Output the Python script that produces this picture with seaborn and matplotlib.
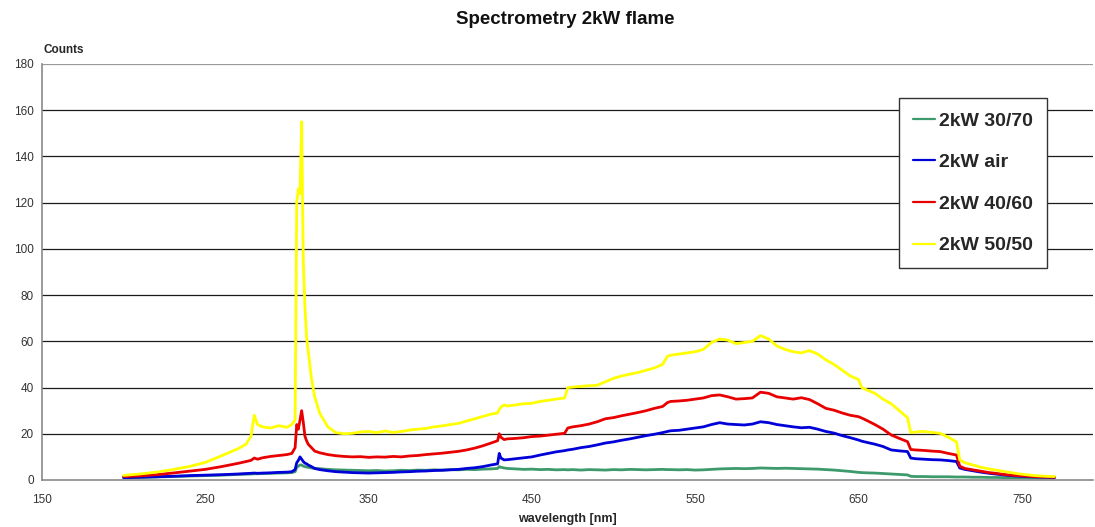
import numpy as np
import pandas as pd
import matplotlib
matplotlib.use("Agg")
import matplotlib.pyplot as plt
import seaborn as sns
from matplotlib.lines import Line2D

wavelength = [200, 210, 220, 230, 240, 250, 260, 270, 275, 278, 280, 282, 285, 290, 295, 300, 303, 305,
              306, 307, 308, 309, 310, 311, 312, 313, 315, 317, 320, 325, 330, 335, 340, 345, 350, 355,
              360, 365, 370, 375, 380, 385, 390, 395, 400, 405, 410, 415, 420, 425, 429, 430, 431, 433,
              435, 440, 445, 450, 455, 460, 465, 470, 472, 475, 480, 485, 490, 495, 500, 505, 510, 515,
              520, 525, 530, 533, 535, 540, 545, 550, 555, 560, 565, 570, 575, 580, 585, 590, 595, 600,
              605, 610, 615, 620, 625, 630, 635, 640, 645, 650, 652, 655, 660, 665, 670, 675, 680, 682,
              685, 690, 695, 700, 705, 710, 712, 715, 720, 725, 730, 735, 740, 745, 750, 755, 760, 765, 770]

kw_30_70 = [1.0, 1.1, 1.3, 1.5, 1.7, 1.9, 2.1, 2.4, 2.5, 2.6, 2.7, 2.7, 2.8, 2.9, 3.0, 3.1, 3.2, 3.6,
            5.5, 6.0, 6.5, 6.5, 6.0, 5.8, 5.6, 5.5, 5.2, 5.0, 4.9, 4.6, 4.4, 4.3, 4.2, 4.1, 4.0, 4.1,
            3.9, 4.0, 4.2, 4.1, 4.3, 4.2, 4.4, 4.3, 4.5, 4.4, 4.6, 4.5, 4.7, 4.8, 5.0, 5.8, 5.5, 5.2,
            5.0, 4.8, 4.6, 4.7, 4.5, 4.6, 4.4, 4.5, 4.4, 4.5, 4.3, 4.5, 4.4, 4.3, 4.5, 4.4, 4.6, 4.5,
            4.4, 4.5, 4.6, 4.5, 4.5, 4.4, 4.5, 4.3, 4.4, 4.6, 4.8, 4.9, 5.0, 4.9, 5.0, 5.2, 5.1, 5.0,
            5.1, 5.0, 4.9, 4.8, 4.7, 4.5, 4.3, 4.0, 3.7, 3.3, 3.2, 3.1, 3.0, 2.8, 2.6, 2.4, 2.2, 1.6,
            1.5, 1.5, 1.4, 1.4, 1.4, 1.3, 1.3, 1.3, 1.2, 1.2, 1.1, 1.1, 1.0, 1.0, 1.0, 0.9, 0.9, 0.9, 0.9]

kw_air = [1.0, 1.2, 1.4, 1.6, 1.9, 2.1, 2.3, 2.6, 2.8, 2.9, 3.0, 2.9, 3.0, 3.1, 3.3, 3.4, 3.6, 4.5,
          7.5, 8.5, 10.0, 9.0, 8.0, 7.3, 7.0, 6.5, 5.8, 5.0, 4.5, 4.0, 3.6, 3.4, 3.2, 3.1, 3.0, 3.1,
          3.2, 3.3, 3.5, 3.6, 3.8, 3.9, 4.1, 4.2, 4.4, 4.6, 5.0, 5.3, 5.8, 6.5, 7.0, 11.5, 9.5, 8.7,
          8.8, 9.2, 9.6, 10.0, 10.8, 11.5, 12.2, 12.7, 13.0, 13.3, 14.0, 14.5, 15.2, 16.0, 16.5, 17.2, 17.8, 18.5,
          19.2, 19.8, 20.5, 21.0, 21.3, 21.5, 22.0, 22.5, 23.0, 24.0, 24.8, 24.2, 24.0, 23.8, 24.2, 25.2, 24.8, 24.0,
          23.5, 23.0, 22.6, 22.8, 22.0, 21.0, 20.3, 19.2, 18.3, 17.3, 16.8, 16.3, 15.5, 14.5, 13.0, 12.6, 12.3, 9.5,
          9.2, 9.0, 8.8, 8.7, 8.4, 8.0, 5.2, 4.6, 4.0, 3.4, 2.9, 2.5, 2.1, 1.8, 1.6, 1.4, 1.3, 1.2, 1.1]

kw_40_60 = [1.5, 1.8, 2.3, 3.0, 3.8, 4.6, 5.8, 7.2, 8.0, 8.5, 9.5, 9.0, 9.6, 10.2, 10.6, 11.0, 11.5, 14.0,
            24.0, 22.0, 26.0, 30.0, 25.0, 19.0, 17.0, 15.5, 14.0, 12.5, 11.8, 11.0, 10.5, 10.2, 10.0, 10.1, 9.8, 10.0,
            9.9, 10.2, 10.0, 10.4, 10.6, 11.0, 11.3, 11.6, 12.0, 12.4, 13.0, 13.8, 14.8, 16.0, 17.0, 20.0, 18.5, 17.5,
            17.8, 18.0, 18.3, 18.8, 19.0, 19.4, 19.8, 20.2, 22.5, 23.0, 23.5, 24.2, 25.2, 26.5, 27.0, 27.8, 28.5, 29.2,
            30.0, 31.0, 31.8, 33.5, 34.0, 34.2, 34.5, 35.0, 35.5, 36.5, 36.8, 36.0, 35.0, 35.2, 35.5, 38.0, 37.5, 36.0,
            35.5, 35.0, 35.6, 34.8, 33.0, 31.0, 30.2, 29.0, 28.0, 27.4, 26.8, 25.8, 24.0, 22.0, 19.5, 18.0, 16.6, 13.2,
            13.0, 12.8, 12.5, 12.3, 11.5, 10.8, 6.0, 5.0, 4.4, 3.8, 3.2, 2.8, 2.3, 2.0, 1.8, 1.6, 1.4, 1.3, 1.2]

kw_50_50 = [2.0, 2.6, 3.4, 4.5, 5.8, 7.6, 10.5, 13.5, 15.5, 19.0, 28.0, 24.0, 23.0, 22.5, 23.5, 22.8, 24.0, 26.0,
            120.0, 126.0, 124.0, 155.0, 95.0, 75.0, 62.0, 56.0, 44.0, 36.0, 29.0, 23.0, 20.5, 20.0, 20.2, 20.8, 21.0, 20.5,
            21.2, 20.6, 21.0, 21.6, 22.0, 22.3, 23.0, 23.4, 24.0, 24.5, 25.5, 26.5, 27.5, 28.5, 29.0, 30.5, 31.5, 32.5,
            32.0, 32.5, 33.0, 33.2, 34.0, 34.5, 35.0, 35.5, 40.0, 40.2, 40.5, 40.8, 41.0, 42.5, 44.0, 45.0, 45.8, 46.5,
            47.5, 48.5, 50.0, 53.5, 54.0, 54.5, 55.0, 55.5, 56.5, 59.5, 61.0, 60.5, 59.0, 59.5, 60.0, 62.5, 61.0, 58.0,
            56.5, 55.5, 55.0, 56.0, 54.5, 52.0, 50.0, 47.5, 45.0, 43.5, 40.0, 39.0, 37.5, 35.0, 33.0, 30.0, 27.0, 20.5,
            20.8, 21.0, 20.6, 20.2, 18.5, 16.5, 8.7, 7.5, 6.5, 5.5, 4.8, 4.2, 3.6, 3.0, 2.5, 2.1, 1.8, 1.6, 1.5]

series_names = ["2kW 30/70", "2kW air", "2kW 40/60", "2kW 50/50"]
series_colors = ["#3c9a6c", "#0000d8", "#e80000", "#ffff00"]
x_ticks = [150, 250, 350, 450, 550, 650, 750]
y_ticks = [0, 20, 40, 60, 80, 100, 120, 140, 160, 180]

frames = []
for name, vals in zip(series_names, [kw_30_70, kw_air, kw_40_60, kw_50_50]):
    frames.append(pd.DataFrame({"wavelength": wavelength, "counts": vals, "series": name}))
df = pd.concat(frames, ignore_index=True)

sns.set_style("white")
plt.rcParams['font.family'] = ['Liberation Sans', 'DejaVu Sans']

fig = plt.figure(figsize=(10.95, 5.27), dpi=100)
ax = fig.add_axes([42 / 1095, 1 - 480 / 527, 1051 / 1095, 416 / 527])

sns.lineplot(data=df, x="wavelength", y="counts", hue="series", hue_order=series_names,
             palette=series_colors, estimator=None, sort=False, linewidth=2.0, ax=ax, legend=False)

ax.set_xlim(150, 793.6)
ax.set_ylim(0, 180)
ax.set_xticks(x_ticks)
ax.set_yticks(y_ticks)
ax.tick_params(axis='both', labelsize=8.5, colors='#333333', length=4, width=0.8)
ax.tick_params(axis='x', direction='inout', length=6, pad=7)
ax.tick_params(axis='y', direction='out', pad=2)
for v in y_ticks[1:]:
    ax.axhline(v, color='#9a9a9a' if v == 180 else '#1a1a1a', linewidth=0.9, zorder=0)
for s in ['top', 'right']:
    ax.spines[s].set_visible(False)
for s in ['left', 'bottom']:
    ax.spines[s].set_color('#8a8a8a')
    ax.spines[s].set_linewidth(1.2)

ax.set_xlabel("wavelength [nm]", fontsize=9, fontweight='bold', labelpad=5)
ax.set_ylabel("")
fig.text(43 / 1095, 1 - 50 / 527, "Counts", fontsize=8.5, fontweight='bold', ha='left', va='center')
fig.text(565 / 1095, 1 - 20 / 527, "Spectrometry 2kW flame", fontsize=13.5, fontweight='bold',
         ha='center', va='center', color='#111111')

handles = [Line2D([0], [0], color=c, linewidth=1.6) for c in series_colors]
leg = ax.legend(handles, series_names, loc='upper left', bbox_to_anchor=(0.8154, 0.918),
                prop={'weight': 'bold', 'size': 14}, frameon=True, fancybox=False,
                labelspacing=1.23, handlelength=1.15, handletextpad=0.2, borderpad=0.72,
                borderaxespad=0)
leg.get_frame().set_edgecolor('#333333')
leg.get_frame().set_linewidth(1.0)
leg.get_frame().set_alpha(1)

fig.savefig("out.png", dpi=100)
